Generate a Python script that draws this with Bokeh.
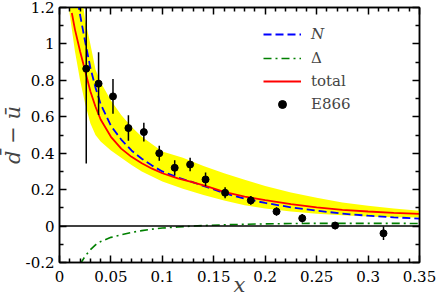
from bokeh.plotting import figure
from bokeh.models import (Range1d, FixedTicker, LinearAxis, Legend, LegendItem,
                          Span)
from bokeh.embed import file_html
from bokeh.resources import INLINE

# ---------------- data ----------------
e866_x = [0.026, 0.038, 0.052, 0.067, 0.082, 0.097, 0.112, 0.127, 0.142,
          0.161, 0.186, 0.211, 0.236, 0.268, 0.315]
e866_y = [0.864, 0.782, 0.712, 0.538, 0.516, 0.400, 0.320, 0.338, 0.256,
          0.183, 0.141, 0.080, 0.043, 0.003, -0.040]
e866_err = [0.520, 0.172, 0.096, 0.070, 0.051, 0.041, 0.041, 0.037, 0.038,
            0.030, 0.024, 0.023, 0.023, 0.020, 0.037]

total_x = [0.012, 0.015, 0.02, 0.025, 0.03, 0.035, 0.04, 0.05, 0.06, 0.07,
           0.08, 0.09, 0.10, 0.115, 0.13, 0.145, 0.16, 0.18, 0.20, 0.225,
           0.25, 0.275, 0.30, 0.325, 0.35]
total_y = [1.17, 1.08, 0.96, 0.85, 0.74, 0.655, 0.585, 0.49, 0.425, 0.38,
           0.345, 0.315, 0.29, 0.262, 0.24, 0.215, 0.188, 0.162, 0.142, 0.12,
           0.103, 0.089, 0.08, 0.073, 0.067]

n_x = [0.018, 0.02, 0.025, 0.03, 0.035, 0.04, 0.05, 0.06, 0.07, 0.08, 0.09,
       0.10, 0.115, 0.13, 0.145, 0.16, 0.18, 0.20, 0.225, 0.25, 0.275, 0.30,
       0.325, 0.35]
n_y = [1.23, 1.16, 1.01, 0.87, 0.76, 0.67, 0.55, 0.475, 0.415, 0.37, 0.332,
       0.30, 0.267, 0.24, 0.211, 0.181, 0.150, 0.127, 0.103, 0.085, 0.068,
       0.057, 0.048, 0.041]

delta_x = [0.02, 0.025, 0.03, 0.035, 0.04, 0.05, 0.06, 0.07, 0.08, 0.09,
           0.10, 0.115, 0.13, 0.145, 0.16, 0.18, 0.20, 0.225, 0.25, 0.275,
           0.30, 0.325, 0.35]
delta_y = [-0.21, -0.165, -0.13, -0.103, -0.085, -0.062, -0.048, -0.035,
           -0.025, -0.017, -0.011, -0.005, 0.0, 0.004, 0.007, 0.010, 0.012,
           0.014, 0.015, 0.015, 0.015, 0.015, 0.014]

band_x = [0.006, 0.009, 0.012, 0.015, 0.02, 0.025, 0.03, 0.035, 0.04, 0.05,
          0.06, 0.07, 0.08, 0.10, 0.12, 0.14, 0.16, 0.18, 0.20, 0.225, 0.25,
          0.275, 0.30, 0.325, 0.35]
band_hi = [2.0, 1.8, 1.6, 1.45, 1.33, 1.13, 1.0, 0.86, 0.79, 0.69, 0.61,
           0.545, 0.49, 0.41, 0.375, 0.33, 0.29, 0.255, 0.22, 0.185, 0.155,
           0.13, 0.112, 0.097, 0.084]
band_lo = [1.4, 1.2, 1.08, 0.96, 0.80, 0.67, 0.565, 0.50, 0.465, 0.415,
           0.375, 0.335, 0.30, 0.245, 0.205, 0.17, 0.14, 0.115, 0.097, 0.08,
           0.068, 0.059, 0.053, 0.049, 0.047]

x_ticks = [0, 0.05, 0.1, 0.15, 0.2, 0.25, 0.3, 0.35]
x_tick_labels = ["0", "0.05", "0.1", "0.15", "0.2", "0.25", "0.3", "0.35"]
x_minor = [0.01, 0.02, 0.03, 0.04, 0.06, 0.07, 0.08, 0.09, 0.11, 0.12, 0.13,
           0.14, 0.16, 0.17, 0.18, 0.19, 0.21, 0.22, 0.23, 0.24, 0.26, 0.27,
           0.28, 0.29, 0.31, 0.32, 0.33, 0.34]
y_ticks = [-0.2, 0, 0.2, 0.4, 0.6, 0.8, 1.0, 1.2]
y_tick_labels = ["-0.2", "0", "0.2", "0.4", "0.6", "0.8", "1", "1.2"]
y_minor = [-0.1, 0.1, 0.3, 0.5, 0.7, 0.9, 1.1]

FONT = "DejaVu Serif"

# ---------------- figure ----------------
p = figure(width=436, height=299, output_backend="svg", toolbar_location=None,
           x_range=Range1d(0, 0.35), y_range=Range1d(-0.2, 1.2),
           min_border_left=55, min_border_right=17, min_border_top=7,
           min_border_bottom=37, x_axis_location=None, y_axis_location=None,
           title="d\u0304 \u2212 \u016b", title_location="left")
p.title.text_font = FONT
p.title.text_font_style = "italic"
p.title.text_font_size = "21px"
p.title.align = "center"
p.title.standoff = -4
p.grid.visible = False
p.background_fill_color = "white"
p.border_fill_color = "white"
p.outline_line_color = "black"
p.outline_line_width = 1.5


def style_axis(ax, show_labels):
    ax.axis_line_width = 1.5
    ax.axis_line_color = "black"
    ax.major_tick_in = 7
    ax.major_tick_out = 0
    ax.minor_tick_in = 4
    ax.minor_tick_out = 0
    ax.major_tick_line_width = 1.5
    ax.minor_tick_line_width = 1.5
    ax.major_tick_line_color = "black"
    ax.minor_tick_line_color = "black"
    if show_labels:
        ax.major_label_text_font = FONT
        ax.major_label_text_font_size = "15px"
        ax.major_label_text_color = "black"
    else:
        ax.major_label_text_font_size = "0px"
        ax.major_label_standoff = 0


xt = FixedTicker(ticks=x_ticks, minor_ticks=x_minor)
yt = FixedTicker(ticks=y_ticks, minor_ticks=y_minor)

xb = LinearAxis(ticker=xt, major_label_overrides=dict(zip(x_ticks, x_tick_labels)))
style_axis(xb, True)
xb.major_label_standoff = 8
xb.axis_label = "x"
xb.axis_label_text_font = FONT
xb.axis_label_text_font_style = "italic"
xb.axis_label_text_font_size = "21px"
xb.axis_label_standoff = -12
p.add_layout(xb, "below")

xtop = LinearAxis(ticker=xt)
style_axis(xtop, False)
p.add_layout(xtop, "above")

yl = LinearAxis(ticker=yt, major_label_overrides=dict(zip(y_ticks, y_tick_labels)))
style_axis(yl, True)
yl.major_label_standoff = 5
p.add_layout(yl, "left")

yr = LinearAxis(ticker=yt)
style_axis(yr, False)
p.add_layout(yr, "right")

# ---------------- glyphs ----------------
p.varea(x=band_x, y1=band_lo, y2=band_hi, fill_color="#ffff00")
p.add_layout(Span(location=0, dimension="width", line_color="black",
                  line_width=1.5))

r_delta = p.line(delta_x, delta_y, line_color="#008000", line_width=1.6,
                 line_dash="8 4 2 4")
r_n = p.line(n_x, n_y, line_color="#0000ff", line_width=1.8, line_dash="8 4")
r_tot = p.line(total_x, total_y, line_color="#ff0000", line_width=1.8)

lo = [y - e for y, e in zip(e866_y, e866_err)]
hi = [y + e for y, e in zip(e866_y, e866_err)]
p.segment(x0=e866_x, y0=lo, x1=e866_x, y1=hi, line_color="black",
          line_width=1.5)
r_pts = p.scatter(e866_x, e866_y, size=7, color="black")

# ---------------- legends ----------------
common = dict(border_line_alpha=0, background_fill_alpha=0, padding=0,
              margin=0, glyph_width=38, glyph_height=20, label_height=20,
              label_standoff=10, spacing=3, label_text_font=FONT,
              label_text_font_size="15px")
leg1 = Legend(items=[LegendItem(label="N", renderers=[r_n])],
              location=(204, 218), label_text_font_style="italic", **common)
leg2 = Legend(items=[LegendItem(label="\u0394", renderers=[r_delta]),
                     LegendItem(label="total", renderers=[r_tot]),
                     LegendItem(label="E866", renderers=[r_pts])],
              location=(204, 148), **common)
p.add_layout(leg1)
p.add_layout(leg2)

open("out.html", "w").write(file_html(p, INLINE))
